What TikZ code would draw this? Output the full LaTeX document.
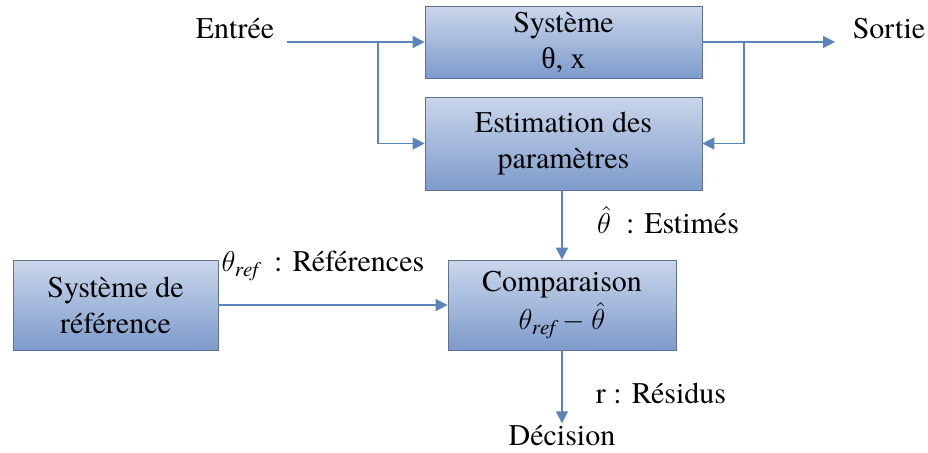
\documentclass[tikz,border=0pt]{standalone}
\usepackage{amsmath}
\usepackage{fontspec}
\setmainfont{texgyretermes-regular.otf}[ItalicFont=texgyretermes-italic.otf, BoldFont=texgyretermes-bold.otf]
\newfontfamily\greekfont{Liberation Serif}
\usepackage{tikz}
\usetikzlibrary{positioning,arrows.meta}
\usepackage{xcolor}
\definecolor{boxtop}{HTML}{CAD6EB}
\definecolor{boxbot}{HTML}{7D9BCB}
\definecolor{boxedge}{HTML}{5E7392}
\definecolor{wire}{HTML}{5B84B8}
\tikzstyle{block} = [rectangle, draw=boxedge, top color=boxtop, bottom color=boxbot, text centered, align=center, minimum width=138.5pt, inner sep=2pt]
\tikzstyle{lbl} = [inner sep=1pt]
\tikzstyle{line} = [draw, thick, color=wire, -{Triangle[length=6pt,width=6pt]}]

\begin{document}
\begin{tikzpicture}[x=0.5pt, y=-0.5pt]
	\fontsize{15}{18}\selectfont
	\useasboundingbox (0,0) rectangle (928,452);
	%% Systeme
	\node[block, minimum height=36pt] (Sys) at (563.5,42) {Système\\{\greekfont θ}, x};
	%% Estimation
	\node[block, minimum height=46.5pt] (Est) at (563.5,143.5) {Estimation des\\paramètres};
	%% Comparaison
	\node[block, minimum width=114pt, minimum height=45pt] (Comp) at (562,305) {Comparaison\\[1pt]$\theta_{\mathit{ref}}-\hat{\theta}$};
	%% reference
	\node[block, minimum width=102.5pt, minimum height=45pt] (Ref) at (115.5,305) {Système de\\référence};
	%% texts
	\node[lbl] (In) at (235,29) {Entrée};
	\node[lbl] (Out) at (889,29) {Sortie};
	\node[lbl] (Dec) at (562,436) {Décision};
	\node[lbl] (Theta) at (668,220) {$\hat{\theta}$\ \ : Estimés};
	\node[lbl] (ThetaRef) at (323,266) {$\theta_{\mathit{ref}}$\ \ : Références};
	\node[lbl] (Res) at (661,393) {r : Résidus};
	%% points
	\coordinate (InEnd) at (287,42);
	\coordinate (OutEnd) at (835,42);
	\coordinate (InSplit) at (378,42);
	\coordinate (OutSplit) at (744,42);
	%% edges
	\path[line](InEnd) -- (Sys.west);
	\path[line](InSplit) |- (Est.west);
	\path[line](Sys.east) -- (OutEnd);
	\path[line](OutSplit) |- (Est.east);
	\path[line](Comp.north |- Est.south) -- (Comp.north);
	\path[line](Ref) -- (Comp);
	\path[line](Comp) -- (Dec);
\end{tikzpicture}
\end{document}
